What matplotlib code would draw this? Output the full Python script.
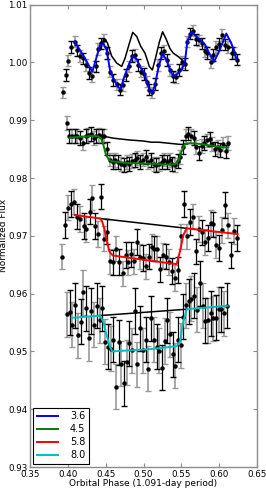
import matplotlib
matplotlib.use('Agg')
import matplotlib.pyplot as plt

# 3.6 micron
ph36 = [0.3932, 0.3971, 0.4007, 0.4046, 0.4090, 0.4126, 0.4165, 0.4205, 0.4240, 0.4284,
        0.4324, 0.4368, 0.4403, 0.4438, 0.4478, 0.4513, 0.4557, 0.4601, 0.4645, 0.4689,
        0.4733, 0.4769, 0.4813, 0.4848, 0.4888, 0.4927, 0.4967, 0.5007, 0.5042, 0.5077,
        0.5117, 0.5152, 0.5192, 0.5231, 0.5267, 0.5306, 0.5346, 0.5385, 0.5430, 0.5469,
        0.5509, 0.5548, 0.5579, 0.5615, 0.5650, 0.5689, 0.5729, 0.5769, 0.5808, 0.5844,
        0.5888, 0.5923, 0.5958, 0.5998, 0.6042, 0.6081, 0.6121, 0.6165, 0.6200, 0.6231]
fl36 = [0.9948, 0.9978, 1.0003, 1.0027, 1.0036, 1.0021, 1.0011, 1.0007, 0.9996, 0.9982,
        0.9976, 0.9993, 1.0023, 1.0033, 1.0039, 1.0016, 0.9984, 0.9970, 0.9962, 0.9953,
        0.9961, 0.9978, 0.9993, 1.0011, 1.0013, 0.9996, 0.9984, 0.9980, 0.9967, 0.9953,
        0.9948, 0.9963, 0.9996, 1.0016, 1.0020, 1.0004, 0.9987, 0.9976, 0.9974, 0.9987,
        1.0001, 0.9997, 1.0036, 1.0050, 1.0055, 1.0040, 1.0038, 1.0033, 1.0019, 1.0016,
        1.0001, 1.0013, 1.0027, 1.0032, 1.0047, 1.0031, 1.0027, 1.0016, 1.0017, 1.0005]
err36 = 0.0010
mod36_ph = [0.4090, 0.4161, 0.4227, 0.4284, 0.4324, 0.4381, 0.4425, 0.4469, 0.4513, 0.4557,
            0.4601, 0.4667, 0.4698, 0.4742, 0.4800, 0.4857, 0.4910, 0.4954, 0.5007, 0.5042,
            0.5086, 0.5117, 0.5152, 0.5196, 0.5249, 0.5306, 0.5350, 0.5394, 0.5438, 0.5504,
            0.5548, 0.5579, 0.5636, 0.5769, 0.5813, 0.5857, 0.5932, 0.6006, 0.6095, 0.6161,
            0.6196, 0.6231]
mod36 = [1.0036, 1.0021, 1.0007, 0.9993, 0.9984, 1.0010, 1.0030, 1.0033, 1.0021, 0.9987,
         0.9972, 0.9957, 0.9954, 0.9974, 0.9994, 1.0011, 1.0006, 0.9992, 0.9983, 0.9967,
         0.9950, 0.9948, 0.9961, 0.9990, 1.0015, 1.0004, 0.9987, 0.9976, 0.9979, 0.9987,
         1.0001, 1.0036, 1.0053, 1.0036, 1.0031, 1.0019, 1.0001, 1.0021, 1.0050, 1.0033,
         1.0021, 1.0005]
ref36_ph = [0.4425, 0.4447, 0.4491, 0.4522, 0.4579, 0.4645, 0.4711, 0.4755, 0.4813, 0.4857,
            0.4910, 0.4963, 0.5020, 0.5077, 0.5117, 0.5152, 0.5209, 0.5253, 0.5297, 0.5350,
            0.5394, 0.5460, 0.5504, 0.5548]
ref36 = [1.0022, 1.0033, 1.0040, 1.0034, 1.0011, 0.9999, 0.9993, 1.0007, 1.0033, 1.0052,
         1.0045, 1.0028, 1.0016, 0.9993, 0.9987, 1.0004, 1.0035, 1.0053, 1.0041, 1.0024,
         1.0016, 1.0010, 1.0005, 0.9999]

# 4.5 micron
ph45 = [0.3985, 0.4020, 0.4055, 0.4090, 0.4126, 0.4161, 0.4200, 0.4236, 0.4271, 0.4306,
        0.4341, 0.4377, 0.4412, 0.4447, 0.4482, 0.4518, 0.4557, 0.4593, 0.4628, 0.4667,
        0.4703, 0.4738, 0.4778, 0.4813, 0.4848, 0.4883, 0.4919, 0.4954, 0.4989, 0.5029,
        0.5064, 0.5099, 0.5134, 0.5170, 0.5205, 0.5240, 0.5275, 0.5311, 0.5346, 0.5381,
        0.5416, 0.5452, 0.5487, 0.5522, 0.5557, 0.5593, 0.5628, 0.5663, 0.5698, 0.5733,
        0.5769, 0.5804, 0.5839, 0.5874, 0.5910, 0.5945, 0.5980, 0.6015, 0.6051, 0.6086,
        0.6121]
fl45 = [0.9895, 0.9873, 0.9873, 0.9873, 0.9873, 0.9869, 0.9860, 0.9872, 0.9874, 0.9876,
        0.9869, 0.9873, 0.9874, 0.9872, 0.9873, 0.9851, 0.9832, 0.9828, 0.9831, 0.9827,
        0.9825, 0.9823, 0.9827, 0.9825, 0.9830, 0.9831, 0.9834, 0.9828, 0.9832, 0.9836,
        0.9828, 0.9831, 0.9825, 0.9823, 0.9825, 0.9828, 0.9832, 0.9827, 0.9831, 0.9825,
        0.9823, 0.9830, 0.9837, 0.9854, 0.9872, 0.9877, 0.9873, 0.9869, 0.9854, 0.9843,
        0.9855, 0.9860, 0.9865, 0.9867, 0.9859, 0.9850, 0.9853, 0.9849, 0.9859, 0.9846,
        0.9860]
err45 = 0.0012
mod45_ph = [0.4020, 0.4130, 0.4240, 0.4330, 0.4400, 0.4440, 0.4470, 0.4500, 0.4540, 0.4580,
            0.4650, 0.4800, 0.5000, 0.5200, 0.5350, 0.5420, 0.5460, 0.5500, 0.5540, 0.5580,
            0.5650, 0.5750, 0.5850, 0.5950, 0.6050, 0.6121]
mod45 = [0.9870, 0.9871, 0.9872, 0.9873, 0.9872, 0.9868, 0.9857, 0.9842, 0.9832, 0.9829,
         0.9828, 0.9826, 0.9825, 0.9824, 0.9823, 0.9824, 0.9830, 0.9845, 0.9857, 0.9860,
         0.9860, 0.9859, 0.9857, 0.9855, 0.9853, 0.9853]
ref45_ph = [0.4440, 0.4600, 0.4800, 0.5000, 0.5100, 0.5200, 0.5350, 0.5500, 0.5580]
ref45 = [0.9873, 0.9869, 0.9866, 0.9864, 0.9862, 0.9862, 0.9860, 0.9858, 0.9859]

# 5.8 micron
ph58 = [0.3927, 0.3967, 0.4006, 0.4042, 0.4086, 0.4125, 0.4165, 0.4210, 0.4244, 0.4289,
        0.4324, 0.4363, 0.4403, 0.4442, 0.4482, 0.4522, 0.4561, 0.4601, 0.4641, 0.4680,
        0.4725, 0.4765, 0.4799, 0.4839, 0.4878, 0.4918, 0.4958, 0.4993, 0.5029, 0.5069,
        0.5108, 0.5143, 0.5183, 0.5222, 0.5262, 0.5301, 0.5341, 0.5381, 0.5420, 0.5460,
        0.5496, 0.5535, 0.5575, 0.5614, 0.5654, 0.5690, 0.5729, 0.5769, 0.5809, 0.5848,
        0.5888, 0.5923, 0.5962, 0.5998, 0.6037, 0.6077, 0.6117, 0.6156, 0.6192, 0.6232]
fl58 = [0.9664, 0.9719, 0.9749, 0.9755, 0.9759, 0.9733, 0.9729, 0.9717, 0.9711, 0.9742,
        0.9766, 0.9717, 0.9703, 0.9768, 0.9695, 0.9707, 0.9656, 0.9654, 0.9678, 0.9655,
        0.9635, 0.9667, 0.9654, 0.9668, 0.9656, 0.9689, 0.9664, 0.9662, 0.9647, 0.9664,
        0.9681, 0.9678, 0.9678, 0.9642, 0.9666, 0.9664, 0.9655, 0.9639, 0.9627, 0.9641,
        0.9699, 0.9755, 0.9699, 0.9724, 0.9733, 0.9673, 0.9712, 0.9706, 0.9689, 0.9696,
        0.9722, 0.9720, 0.9684, 0.9679, 0.9710, 0.9753, 0.9718, 0.9667, 0.9708, 0.9696]
err58 = 0.0022
mod58_ph = [0.4090, 0.4425, 0.4447, 0.4482, 0.4513, 0.4548, 0.4593, 0.5086, 0.5438, 0.5482,
            0.5526, 0.5571, 0.6245]
mod58 = [0.9736, 0.9730, 0.9727, 0.9713, 0.9693, 0.9673, 0.9666, 0.9657, 0.9651, 0.9673,
         0.9701, 0.9713, 0.9703]
ref58_ph = [0.4425, 0.5571]
ref58 = [0.9730, 0.9713]

# 8.0 micron
ph80 = [0.3985, 0.4025, 0.4059, 0.4095, 0.4130, 0.4170, 0.4204, 0.4240, 0.4276, 0.4310,
        0.4350, 0.4385, 0.4421, 0.4456, 0.4491, 0.4531, 0.4566, 0.4601, 0.4637, 0.4672,
        0.4707, 0.4742, 0.4778, 0.4812, 0.4848, 0.4884, 0.4918, 0.4958, 0.4993, 0.5029,
        0.5063, 0.5099, 0.5139, 0.5174, 0.5209, 0.5244, 0.5280, 0.5315, 0.5350, 0.5386,
        0.5420, 0.5456, 0.5492, 0.5526, 0.5562, 0.5597, 0.5632, 0.5671, 0.5711, 0.5747,
        0.5782, 0.5817, 0.5852, 0.5888, 0.5923, 0.5958, 0.5994, 0.6028, 0.6068, 0.6103]
fl80 = [0.9564, 0.9568, 0.9546, 0.9580, 0.9528, 0.9551, 0.9602, 0.9575, 0.9523, 0.9570,
        0.9546, 0.9579, 0.9554, 0.9575, 0.9517, 0.9508, 0.9505, 0.9520, 0.9439, 0.9516,
        0.9479, 0.9445, 0.9481, 0.9514, 0.9502, 0.9570, 0.9478, 0.9540, 0.9502, 0.9520,
        0.9470, 0.9557, 0.9520, 0.9508, 0.9501, 0.9472, 0.9518, 0.9554, 0.9530, 0.9495,
        0.9475, 0.9520, 0.9511, 0.9560, 0.9580, 0.9587, 0.9591, 0.9596, 0.9572, 0.9618,
        0.9579, 0.9553, 0.9554, 0.9566, 0.9557, 0.9558, 0.9573, 0.9573, 0.9566, 0.9579]
err80 = 0.0039
mod80_ph = [0.4051, 0.4425, 0.4469, 0.4513, 0.4557, 0.4588, 0.5086, 0.5438, 0.5482, 0.5526,
            0.5571, 0.6113]
mod80 = [0.9558, 0.9562, 0.9551, 0.9528, 0.9508, 0.9500, 0.9504, 0.9509, 0.9517, 0.9551,
         0.9573, 0.9579]
ref80_ph = [0.4425, 0.5571]
ref80 = [0.9562, 0.9573]

bands = [('3.6', 'b', ph36, fl36, err36, mod36_ph, mod36, ref36_ph, ref36),
         ('4.5', 'g', ph45, fl45, err45, mod45_ph, mod45, ref45_ph, ref45),
         ('5.8', 'r', ph58, fl58, err58, mod58_ph, mod58, ref58_ph, ref58),
         ('8.0', 'c', ph80, fl80, err80, mod80_ph, mod80, ref80_ph, ref80)]

plt.rcParams['font.family'] = 'DejaVu Sans'
fig = plt.figure(figsize=(2.66, 4.88), dpi=100)
ax = fig.add_axes([0.113, 0.043, 0.853, 0.9475])

for name, col, ph, fl, err, mph, mfl, rph, rfl in bands:
    ax.errorbar(ph[::2], fl[::2], yerr=err, fmt='none', ecolor='0.6', elinewidth=1.2,
                capsize=2, capthick=1.0)
    ax.errorbar(ph[1::2], fl[1::2], yerr=err, fmt='none', ecolor='k', elinewidth=0.9,
                capsize=2, capthick=1.0)
    ax.plot(ph, fl, 'o', color='k', markersize=2.2, zorder=3)
    ax.plot(rph, rfl, '-', color='k', lw=1.1, zorder=4)
    ax.plot(mph, mfl, '-', color=col, lw=1.4, zorder=5, label=name)

ax.set_xlim(0.35, 0.65)
ax.set_ylim(0.93, 1.01)
ax.set_xticks([0.35, 0.40, 0.45, 0.50, 0.55, 0.60, 0.65])
ax.set_xticklabels(['0.35', '0.40', '0.45', '0.50', '0.55', '0.60', '0.65'])
ax.set_yticks([0.93, 0.94, 0.95, 0.96, 0.97, 0.98, 0.99, 1.00, 1.01])
ax.set_yticklabels(['0.93', '0.94', '0.95', '0.96', '0.97', '0.98', '0.99', '1.00', '1.01'])
ax.tick_params(direction='in', top=True, right=True, labelsize=6.3, length=3,
               color='0.55', pad=2)
for s in ax.spines.values():
    s.set_color('0.55')
    s.set_linewidth(1.0)
ax.set_xlabel('Orbital Phase (1.091-day period)', fontsize=6.5)
ax.set_ylabel('Normalized Flux', fontsize=6.5)
ax.xaxis.set_label_coords(0.5, -0.026)
ax.yaxis.set_label_coords(-0.097, 0.5)

leg = ax.legend(loc='lower left', fontsize=7, fancybox=False, framealpha=1,
                edgecolor='k', borderaxespad=0.3, handlelength=2.2, handletextpad=1.2,
                labelspacing=0.3)
leg.get_frame().set_linewidth(0.8)

fig.savefig('out.png', dpi=100)
